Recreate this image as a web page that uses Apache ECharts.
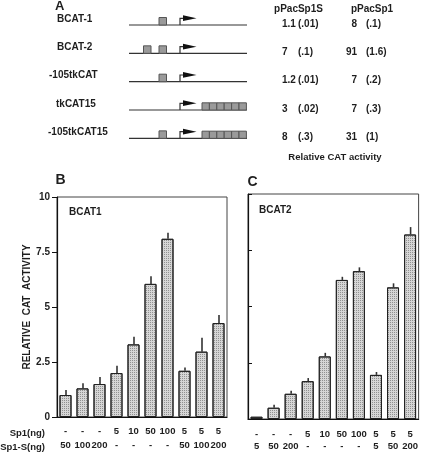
<!DOCTYPE html>
<html>
<head>
<meta charset="utf-8">
<script src="https://cdn.jsdelivr.net/npm/echarts@6/dist/echarts.min.js"></script>
<style>
  html, body { margin: 0; padding: 0; background: #fff; }
  #chart { width: 421px; height: 452px; }
</style>
</head>
<body>
<div id="chart"></div>
<script>
// ---------- Panel A data ----------
const constructs = ['BCAT-1', 'BCAT-2', '-105tkCAT', 'tkCAT15', '-105tkCAT15'];
const sp1Sites = [[1], [0, 1], [1], [], [1]];       // occupied Sp1 site slots
const sitePositions = [14.5, 30];                   // schematic position of slots
const promoterPos = 51;
const cat15Repeats = [0, 0, 0, 6, 6];
const cat15Start = 73;
const constructLength = 118;
const sp1sMean = ['1.1', '7', '1.2', '3', '8'];
const sp1sSD = ['(.01)', '(.1)', '(.01)', '(.02)', '(.3)'];
const sp1Mean = ['8', '91', '7', '7', '31'];
const sp1SD = ['(.1)', '(1.6)', '(.2)', '(.3)', '(1)'];

// ---------- Panel B / C data ----------
const sp1Ng = ['-', '-', '-', '5', '10', '50', '100', '5', '5', '5'];
const sp1sNgB = ['50', '100', '200', '-', '-', '-', '-', '50', '100', '200'];
const sp1sNgC = ['5', '50', '200', '-', '-', '-', '-', '5', '50', '200'];
const bcat1 = [1.0, 1.3, 1.5, 2.0, 3.3, 6.05, 8.1, 2.1, 2.97, 4.27];
const bcat1Err = [1.23, 1.53, 1.82, 2.33, 3.65, 6.4, 8.38, 2.25, 3.6, 4.64];
const bcat2 = [0.1, 0.5, 1.12, 1.68, 2.78, 6.18, 6.57, 1.96, 5.85, 8.2];
const bcat2Err = [0.1, 0.63, 1.26, 1.82, 2.94, 6.32, 6.74, 2.09, 6.03, 8.53];
const yTicks = ['0', '2.5', '5', '7.5', '10'];

// ---------- layout / style ----------
const FONT = '"Liberation Sans", Arial, Helvetica, sans-serif';
const INK = '#1e1e1e';
const LINE = '#333';
const labelX = [57, 57, 49, 56, 48];
const cats = sp1Ng.map((_, i) => String(i));

const chart = echarts.init(document.getElementById('chart'), null, { renderer: 'canvas' });

function schematic(params, api) {
  const row = api.value(1);
  const i = row;
  const p0 = api.coord([0, row]);
  const p1 = api.coord([constructLength, row]);
  const y = p0[1];
  const kids = [];
  kids.push({ type: 'line', shape: { x1: p0[0], y1: y, x2: p1[0], y2: y }, style: { stroke: LINE, lineWidth: 1.2 } });
  sp1Sites[i].forEach(s => {
    const p = api.coord([sitePositions[s], row]);
    kids.push({ type: 'rect', shape: { x: p[0], y: y - 7.5, width: 7.5, height: 7.5 }, style: { fill: '#9a9a9a', stroke: '#555', lineWidth: 1 } });
  });
  const pp = api.coord([promoterPos, row]);
  kids.push({ type: 'polyline', shape: { points: [[pp[0], y], [pp[0], y - 6.7], [pp[0] + 4, y - 6.7]] }, style: { stroke: LINE, lineWidth: 1.2, fill: null } });
  kids.push({ type: 'polygon', shape: { points: [[pp[0] + 3, y - 9.7], [pp[0] + 16.5, y - 6.7], [pp[0] + 3, y - 3.9]] }, style: { fill: '#111' } });
  for (let k = 0; k < cat15Repeats[i]; k++) {
    const a = api.coord([cat15Start + k * 7.4, row]);
    kids.push({ type: 'rect', shape: { x: a[0], y: y - 7.2, width: 7.4, height: 7.2 }, style: { fill: '#9a9a9a', stroke: '#555', lineWidth: 1 } });
  }
  const tf = 'bold 10px ' + FONT;
  kids.push({ type: 'text', x: labelX[i], y: y - 6, style: { text: constructs[i], font: tf, fill: INK, align: 'left', verticalAlign: 'middle' } });
  kids.push({ type: 'text', x: 282, y: y - 1, style: { text: sp1sMean[i], font: tf, fill: INK, align: 'left', verticalAlign: 'middle' } });
  kids.push({ type: 'text', x: 298, y: y - 1, style: { text: sp1sSD[i], font: tf, fill: INK, align: 'left', verticalAlign: 'middle' } });
  kids.push({ type: 'text', x: 357, y: y - 1, style: { text: sp1Mean[i], font: tf, fill: INK, align: 'right', verticalAlign: 'middle' } });
  kids.push({ type: 'text', x: 366, y: y - 1, style: { text: sp1SD[i], font: tf, fill: INK, align: 'left', verticalAlign: 'middle' } });
  return { type: 'group', children: kids };
}

function errBar(params, api) {
  const x = api.value(0);
  const a = api.coord([x, api.value(1)]);
  const b = api.coord([x, api.value(2)]);
  return { type: 'line', shape: { x1: a[0] + 0.5, y1: a[1], x2: b[0] + 0.5, y2: b[1] }, style: { stroke: LINE, lineWidth: 1.6 } };
}

const barStyle = {
  color: '#d6d6d6',
  borderColor: '#222',
  borderWidth: 1,
  decal: { symbol: 'rect', symbolSize: 1, dashArrayX: [1, 1], dashArrayY: [1, 1], color: 'rgba(90,90,90,0.55)', rotation: 0 }
};

const axisLabelFont = { fontFamily: FONT, fontWeight: 'bold', color: INK };

const option = {
  backgroundColor: '#fff',
  animation: false,
  aria: { enabled: true, decal: { show: true } },
  grid: [
    { left: 129, width: 118, top: 10.83, height: 141.7, show: false },
    { left: 57, width: 170, top: 197, height: 222, show: true, borderColor: '#444', borderWidth: 1, backgroundColor: 'transparent' },
    { left: 248, width: 171, top: 194, height: 226, show: true, borderColor: '#444', borderWidth: 1, backgroundColor: 'transparent' }
  ],
  xAxis: [
    { gridIndex: 0, type: 'value', min: 0, max: constructLength, show: false },
    {
      gridIndex: 1, type: 'category', data: cats,
      axisLine: { lineStyle: { color: '#111', width: 1.2 } }, axisTick: { show: false },
      axisLabel: Object.assign({ interval: 0, fontSize: 9.5, lineHeight: 14, margin: 7,
        formatter: (v, idx) => sp1Ng[idx] + '\n' + sp1sNgB[idx] }, axisLabelFont)
    },
    {
      gridIndex: 2, type: 'category', data: cats,
      axisLine: { lineStyle: { color: '#111', width: 1.2 } }, axisTick: { show: false },
      axisLabel: Object.assign({ interval: 0, fontSize: 9.5, lineHeight: 11.5, margin: 10,
        formatter: (v, idx) => sp1Ng[idx] + '\n' + sp1sNgC[idx] }, axisLabelFont)
    }
  ],
  yAxis: [
    { gridIndex: 0, type: 'value', min: -0.5, max: 4.5, inverse: true, show: false },
    {
      gridIndex: 1, type: 'value', min: 0, max: 10, interval: 2.5,
      name: 'RELATIVE  CAT  ACTIVITY', nameLocation: 'middle', nameGap: 24,
      nameTextStyle: { fontFamily: FONT, fontWeight: 'bold', fontSize: 10, color: INK },
      axisLine: { show: true, lineStyle: { color: '#111', width: 1.2 } },
      axisTick: { show: true, length: 5, inside: false, lineStyle: { color: '#111' } },
      splitLine: { show: false },
      axisLabel: Object.assign({ fontSize: 10, margin: 7, formatter: v => yTicks[Math.round(v / 2.5)] }, axisLabelFont)
    },
    {
      gridIndex: 2, type: 'value', min: 0, max: 10, interval: 2.5,
      axisLine: { show: true, lineStyle: { color: '#111', width: 1.2 } },
      axisTick: { show: true, length: 4, inside: true, lineStyle: { color: '#111' } },
      splitLine: { show: false },
      axisLabel: { show: false }
    }
  ],
  series: [
    { type: 'custom', xAxisIndex: 0, yAxisIndex: 0, clip: false, renderItem: schematic,
      data: constructs.map((c, i) => [0, i]), encode: { x: 0, y: 1 }, silent: true },
    { type: 'bar', xAxisIndex: 1, yAxisIndex: 1, data: bcat1, barWidth: 12, itemStyle: barStyle },
    { type: 'custom', xAxisIndex: 1, yAxisIndex: 1, renderItem: errBar, clip: false,
      data: bcat1.map((v, i) => [i, v, bcat1Err[i]]), encode: { x: 0, y: [1, 2] }, z: 3 },
    { type: 'bar', xAxisIndex: 2, yAxisIndex: 2, data: bcat2, barWidth: 12, itemStyle: barStyle },
    { type: 'custom', xAxisIndex: 2, yAxisIndex: 2, renderItem: errBar, clip: false,
      data: bcat2.map((v, i) => [i, v, bcat2Err[i]]), encode: { x: 0, y: [1, 2] }, z: 3 }
  ],
  graphic: [
    { type: 'text', left: 55, top: 0, style: { text: 'A', font: 'bold 13px ' + FONT, fill: INK } },
    { type: 'text', x: 298.5, y: 9, style: { text: 'pPacSp1S', font: 'bold 10px ' + FONT, fill: INK, align: 'center', verticalAlign: 'middle' } },
    { type: 'text', x: 372, y: 9, style: { text: 'pPacSp1', font: 'bold 10px ' + FONT, fill: INK, align: 'center', verticalAlign: 'middle' } },
    { type: 'text', x: 335, y: 157, style: { text: 'Relative CAT activity', font: 'bold 9.5px ' + FONT, fill: INK, align: 'center', verticalAlign: 'middle' } },
    { type: 'text', x: 60.5, y: 180, style: { text: 'B', font: 'bold 14px ' + FONT, fill: INK, align: 'center', verticalAlign: 'middle' } },
    { type: 'text', x: 252.5, y: 182, style: { text: 'C', font: 'bold 14px ' + FONT, fill: INK, align: 'center', verticalAlign: 'middle' } },
    { type: 'text', x: 69, y: 212, style: { text: 'BCAT1', font: 'bold 10px ' + FONT, fill: INK, align: 'left', verticalAlign: 'middle' } },
    { type: 'text', x: 259, y: 210, style: { text: 'BCAT2', font: 'bold 10px ' + FONT, fill: INK, align: 'left', verticalAlign: 'middle' } },
    { type: 'text', x: 45, y: 433, style: { text: 'Sp1(ng)', font: 'bold 9.5px ' + FONT, fill: INK, align: 'right', verticalAlign: 'middle' } },
    { type: 'text', x: 45, y: 447, style: { text: 'Sp1-S(ng)', font: 'bold 9.5px ' + FONT, fill: INK, align: 'right', verticalAlign: 'middle' } }
  ]
};
chart.setOption(option);
</script>
</body>
</html>
